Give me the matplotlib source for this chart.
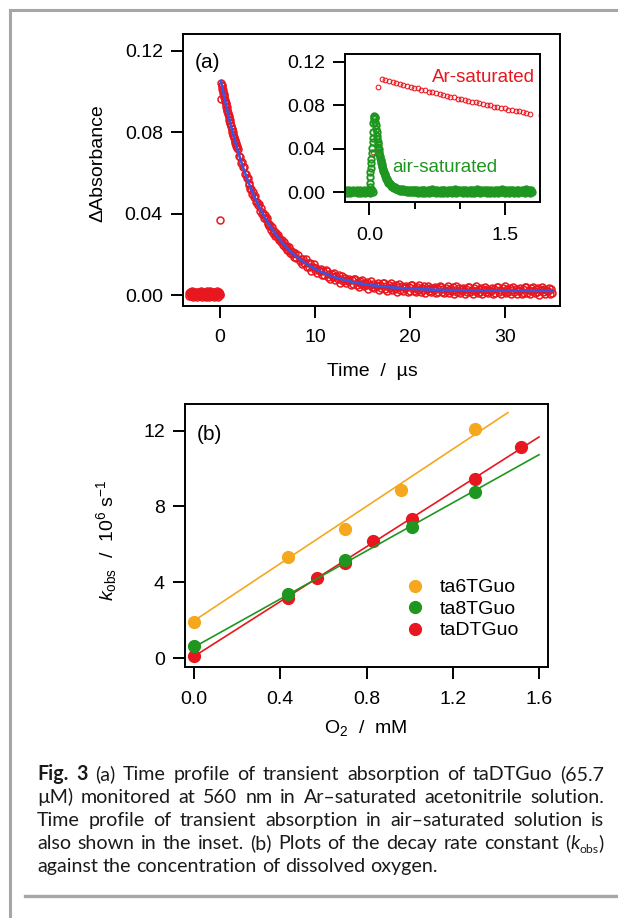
import numpy as np
import matplotlib
matplotlib.use("Agg")
import matplotlib.pyplot as plt
from matplotlib.lines import Line2D
from matplotlib.ticker import FormatStrFormatter

plt.rcParams['font.family'] = ['Liberation Sans', 'DejaVu Sans']
plt.rcParams['mathtext.fontset'] = 'custom'
plt.rcParams['mathtext.rm'] = 'Liberation Sans'
plt.rcParams['mathtext.it'] = 'Liberation Sans:italic'

W, H = 618, 918

# --- (a) transient absorption at 560 nm, values in mOD ---
# Ar-saturated: pre-trigger baseline (-3.3 .. 0.0 us)
ar_pre = [0.9, -0.4, 1.6, 0.6, -0.7, 1.3, 0.1, 1.9, -0.2, 0.8, -1.0, 1.2, 0.5, -0.5,
          1.5, 0.2, 1.0, -0.8, 1.7, -0.1, 0.7, -0.3, 1.4, -0.6, 1.1, 0.0, 1.8, -0.9,
          0.6, 1.3, -0.2, 0.9, 0.2, 1.2, -0.6, 1.5, 0.3, -0.9, 1.8, 0.4, -0.3, 1.1,
          -1.1, 0.7, 2.0, -0.4, 0.9, 0.1, 1.6, -0.7, 1.2, 0.5, -0.2, 1.7, -0.8, 0.6,
          1.4, 0.0, -0.5, 1.9, 0.3, 1.0, -1.0, 0.8, 1.5, -0.1, 0.4]
# laser pulse rise
ar_rise_t = [0.045, 0.093]
ar_rise = [37.0, 96.5]
# 0.137 .. 1.777 us (40 ns steps)
ar_early = [104.3, 103.0, 102.5, 101.2, 100.7, 99.4, 98.9, 97.6, 97.2, 95.9, 95.5,
            94.2, 93.8, 92.5, 92.1, 90.9, 90.5, 89.3, 88.9, 87.7, 87.3, 86.1, 85.8,
            84.6, 84.3, 83.1, 82.8, 81.7, 81.4, 80.2, 79.9, 78.8, 78.5, 77.4, 77.1,
            76.0, 75.8, 74.7, 74.5, 73.4, 73.2, 72.1]
# 1.9 .. 8.0 us (0.1 us steps)
ar_mid = [71.5, 68.1, 67.7, 64.7, 65.4, 62.9, 63.0, 59.5, 59.5, 57.4, 57.5, 54.2,
          55.2, 52.1, 52.1, 49.5, 50.5, 48.3, 48.8, 45.5, 45.9, 44.1, 44.5, 41.5,
          42.8, 40.0, 40.2, 37.8, 39.1, 37.2, 37.9, 34.9, 35.6, 33.9, 34.6, 31.8,
          33.3, 30.7, 31.2, 29.0, 30.5, 28.8, 29.6, 26.9, 27.7, 26.2, 27.1, 24.4,
          26.1, 23.7, 24.3, 22.3, 23.9, 22.3, 23.4, 20.7, 21.7, 20.3, 21.3, 18.8,
          20.6, 18.3]
# 8.25 .. 35.0 us (0.125 us steps)
ar_tail = [19.8, 16.8, 17.7, 15.1, 17.5, 15.7, 17.6, 14.0, 15.6, 14.0, 15.6, 11.9,
           13.7, 15.0, 12.2, 13.5, 10.9, 12.5, 11.6, 12.7, 9.6, 11.7, 9.7, 12.1,
           11.8, 9.0, 10.1, 7.8, 10.4, 8.8, 10.9, 7.5, 9.2, 7.8, 9.6, 6.1,
           8.0, 9.5, 6.8, 8.2, 5.8, 7.5, 6.8, 8.1, 5.0, 7.3, 5.4, 8.0,
           7.7, 5.1, 6.3, 4.1, 6.8, 5.3, 7.5, 4.2, 6.0, 4.7, 6.5, 3.1,
           5.1, 6.7, 4.1, 5.6, 3.2, 5.1, 4.4, 5.7, 2.7, 5.1, 3.2, 5.9,
           5.7, 3.1, 4.4, 2.2, 5.0, 3.5, 5.8, 2.5, 4.4, 3.1, 5.0, 1.6,
           3.7, 5.3, 2.7, 4.3, 1.9, 3.8, 3.2, 4.5, 1.6, 4.0, 2.1, 4.8,
           4.7, 2.1, 3.4, 1.3, 4.1, 2.6, 4.9, 1.7, 3.6, 2.3, 4.2, 0.9,
           3.0, 4.5, 2.0, 3.6, 1.3, 3.2, 2.5, 3.9, 1.0, 3.4, 1.6, 4.3,
           4.1, 1.6, 2.9, 0.8, 3.6, 2.2, 4.5, 1.2, 3.1, 1.9, 3.8, 0.5,
           2.6, 4.2, 1.7, 3.3, 1.0, 2.8, 2.2, 3.6, 0.7, 3.1, 1.3, 4.0,
           3.9, 1.4, 2.7, 0.6, 3.4, 1.9, 4.2, 1.0, 2.9, 1.7, 3.6, 0.3,
           2.4, 4.0, 1.5, 3.1, 0.8, 2.7, 2.1, 3.5, 0.6, 3.0, 1.2, 3.9,
           3.8, 1.3, 2.6, 0.5, 3.3, 1.9, 4.2, 1.0, 2.9, 1.7, 3.6, 0.3,
           2.4, 4.0, 1.4, 3.0, 0.7, 2.6, 2.0, 3.4, 0.5, 2.9, 1.1, 3.8,
           3.7, 1.2, 2.5, 0.4, 3.2, 1.8, 4.1, 0.9, 2.8, 1.6, 3.5, 0.2,
           2.3, 3.9, 1.4, 3.0, 0.7, 2.6, 2.0, 3.4, 0.5, 2.9, 1.1]

# single-exponential fit of the Ar-saturated decay (mOD, us)
fit_base, fit_amp, fit_t0, fit_tau = 2.0, 103.0, 0.1, 4.4

# air-saturated trace (inset)
air_pre = [1.9, -0.3, 1.4, 0.2, 2.2, -0.5, 1.1, 0.6, 2.0, -0.1, 1.6, 0.0, 2.3, -0.4,
           1.2, 0.7, 1.8, -0.2, 1.5, 0.3, 2.1, -0.6, 1.3, 0.5, 1.9, 0.1, 2.4, -0.3,
           1.0, 1.7, 0.4]
air_rise_t = [0.008, 0.010, 0.012, 0.013, 0.015, 0.017, 0.019, 0.030, 0.033, 0.036,
              0.038, 0.041, 0.044, 0.048, 0.052, 0.056, 0.060, 0.064]
air_rise = [5.0, 9.0, 14.0, 19.0, 22.0, 27.0, 31.0, 36.0, 41.0, 46.0, 50.0, 55.0,
            64.0, 67.0, 69.0, 70.0, 69.0, 68.0]
# 0.068 .. 0.300 us (4 ns steps)
air_decay = [64.6, 61.5, 57.9, 55.1, 51.8, 49.4, 46.3, 44.3, 41.5, 39.8,
             37.2, 35.6, 33.4, 31.9, 29.8, 28.7, 26.7, 25.7, 24.0, 23.1,
             21.5, 20.8, 19.2, 18.7, 17.3, 16.8, 15.5, 15.1, 13.9, 13.6,
             12.4, 12.2, 11.2, 10.9, 10.1, 9.9, 9.0, 8.9, 8.1, 8.0,
             7.3, 7.2, 6.5, 6.6, 5.8, 6.0, 5.2, 5.6, 4.7, 5.2,
             4.3, 4.8, 3.9, 4.5, 3.6, 4.1, 3.2, 3.9, 3.0]
# 0.31 .. 1.80 us (10 ns steps)
air_tail = [3.4, 2.0, 3.1, 1.5, 2.8, 1.2, 2.6, 0.9, 2.5, 1.0,
            2.3, 0.4, 2.1, 0.7, 2.4, 0.2, 1.9, 0.5, 2.2, -0.1,
            1.8, 0.3, 2.3, -0.2, 1.6, 0.6, 2.4, -0.4, 1.7, 0.1,
            2.5, -0.3, 1.4, 0.8, 2.2, -0.5, 1.9, 0.2, 2.6, -0.1,
            1.5, 0.4, 2.3, -0.6, 2.0, 0.7, 1.3, -0.2, 2.5, 0.3,
            1.8, -0.4, 2.2, 0.5, 1.6, -0.3, 2.4, 0.0, 1.9, 0.6,
            2.1, -0.5, 1.5, 0.3, 2.6, -0.2, 1.7, 0.8, 2.3, -0.1,
            1.4, 0.2, 2.5, -0.4, 1.8, 0.5, 2.0, -0.3, 1.6, 0.7,
            2.4, -0.2, 1.9, 0.1, 2.2, -0.6, 1.5, 0.4, 2.6, 0.0,
            1.7, -0.3, 2.1, 0.6, 1.4, -0.1, 2.3, 0.3, 1.8, -0.5,
            2.5, 0.2, 1.6, -0.4, 2.0, 0.7, 1.3, -0.2, 2.4, 0.1,
            1.9, -0.6, 2.2, 0.4, 1.5, -0.1, 2.6, 0.3, 1.7, -0.3,
            2.1, 0.5, 1.4, -0.2, 2.3, 0.0, 1.8, 0.6, 2.5, -0.4,
            1.6, 0.2, 2.0, -0.5, 2.4, 0.4, 1.3, -0.1, 2.2, 0.7,
            1.9, -0.3, 2.6, 0.1, 1.5, 0.5, 2.1, -0.2, 1.7, 0.3]

# --- (b) decay rate constant vs dissolved O2 ---
o2_6t = [0.0, 0.434, 0.70, 0.959, 1.302]
k_6t = [1.88, 5.31, 6.80, 8.87, 12.07]
o2_8t = [0.0, 0.434, 0.70, 1.009, 1.302]
k_8t = [0.62, 3.37, 5.18, 6.91, 8.77]
o2_dt = [0.0, 0.434, 0.571, 0.70, 0.829, 1.012, 1.302, 1.518]
k_dt = [0.12, 3.16, 4.25, 5.01, 6.15, 7.33, 9.44, 11.12]
# linear fits: intercept, slope, end of fitted range
fit_6t = (1.97, 7.54, 1.456)
fit_8t = (0.58, 6.34, 1.60)
fit_dt = (0.09, 7.23, 1.60)
names = ["ta6TGuo", "ta8TGuo", "taDTGuo"]

caption = [
    "Fig. 3 (a) Time profile of transient absorption of taDTGuo (65.7",
    "\u00b5M) monitored at 560 nm in Ar\u2013saturated acetonitrile solution.",
    "Time profile of transient absorption in air\u2013saturated solution is",
    "also shown in the inset. (b) Plots of the decay rate constant (kobs)",
    "against the concentration of dissolved oxygen.",
]

red = "#e8161e"
green = "#1f961f"
orange = "#f5a81e"
blue = "#3a55e0"
gray = "#a6a6a6"

# time axes of the sampled traces
ar_t = np.concatenate([np.linspace(-3.3, 0.0, len(ar_pre)), ar_rise_t,
                       np.linspace(0.137, 1.777, len(ar_early)),
                       np.linspace(1.9, 8.0, len(ar_mid)),
                       np.linspace(8.25, 35.0, len(ar_tail))])
ar_v = np.concatenate([ar_pre, ar_rise, ar_early, ar_mid, ar_tail]) * 1e-3
air_t = np.concatenate([np.linspace(-0.26, 0.04, len(air_pre)), air_rise_t,
                        np.linspace(0.068, 0.300, len(air_decay)),
                        np.linspace(0.31, 1.80, len(air_tail))])
air_v = np.concatenate([air_pre, air_rise, air_decay, air_tail]) * 1e-3
fit_t = np.linspace(fit_t0, 35.0, 400)
fit_v = (fit_base + fit_amp * np.exp(-(fit_t - fit_t0) / fit_tau)) * 1e-3


def rect(l, t, r, b):
    return [l / W, 1 - b / H, (r - l) / W, (b - t) / H]


def style_axes(ax, length=8.5, pad=6):
    for s in ax.spines.values():
        s.set_linewidth(1.4)
    ax.tick_params(direction="out", length=length, width=1.4, labelsize=14,
                   pad=pad, top=False, right=False)


fig = plt.figure(figsize=(W / 100, H / 100), dpi=100)

# page frame
fig.add_artist(Line2D([10 / W, 1], [1 - 10 / H] * 2, color=gray, lw=2.2))
fig.add_artist(Line2D([10 / W] * 2, [1 - 10 / H, 0], color=gray, lw=2.2))
fig.add_artist(Line2D([25 / W, 1], [1 - 896 / H] * 2, color=gray, lw=2.4))

# (a) main trace
ax_a = fig.add_axes(rect(183, 34, 560, 306))
ax_a.plot(ar_t, ar_v, ls="none", marker="o", ms=5.0, mfc="none", mec=red, mew=1.1)
ax_a.plot(fit_t, fit_v, color=blue, lw=1.9)
ax_a.set_xlim(-3.9, 35.8)
ax_a.set_ylim(-0.0054, 0.1282)
ax_a.set_xticks([0, 10, 20, 30])
ax_a.set_yticks([0, 0.04, 0.08, 0.12])
ax_a.yaxis.set_major_formatter(FormatStrFormatter("%.2f"))
style_axes(ax_a)
ax_a.tick_params(axis="x", pad=8)

# (a) inset
ax_in = fig.add_axes(rect(345, 54, 540, 202))
ax_in.set_zorder(3)
ax_in.plot(ar_t, ar_v, ls="none", marker="o", ms=3.4, mfc="none", mec=red, mew=0.75)
ax_in.plot(air_t, air_v, ls="none", marker="o", ms=4.6, mfc="none", mec=green, mew=1.4)
ax_in.set_xlim(-0.269, 1.888)
ax_in.set_ylim(-0.0089, 0.1271)
ax_in.set_xticks([0, 1.5])
ax_in.set_xticks([0.5, 1.0], minor=True)
ax_in.set_yticks([0, 0.04, 0.08, 0.12])
ax_in.xaxis.set_major_formatter(FormatStrFormatter("%.1f"))
ax_in.yaxis.set_major_formatter(FormatStrFormatter("%.2f"))
style_axes(ax_in, length=9, pad=5)
ax_in.tick_params(axis="x", pad=9)
ax_in.tick_params(axis="x", which="minor", direction="out", length=5, width=1.4)
ax_in.text(0.974, 0.838, "Ar-saturated", color=red, fontsize=13.5,
           ha="right", va="center", transform=ax_in.transAxes)
ax_in.text(0.241, 0.236, "air-saturated", color=green, fontsize=13.5,
           ha="left", va="center", transform=ax_in.transAxes)

fig.text(195 / W, 1 - 62 / H, "(a)", fontsize=15, va="center")
fig.text(98 / W, 1 - 163 / H, "\u0394Absorbance", rotation=90, fontsize=14,
         ha="center", va="center")
fig.text(372 / W, 1 - 372 / H, "Time  /  \u00b5s", fontsize=14, ha="center", va="center")

# (b) kobs vs [O2]
ax_b = fig.add_axes(rect(185, 404, 548, 667))
handles = []
for xs, ys, fit, col, name in [(o2_dt, k_dt, fit_dt, red, names[2]),
                               (o2_8t, k_8t, fit_8t, green, names[1]),
                               (o2_6t, k_6t, fit_6t, orange, names[0])]:
    b0, b1, xend = fit
    xf = np.array([0.0, xend])
    ax_b.plot(xf, b0 + b1 * xf, color=col, lw=1.2)
    h, = ax_b.plot(xs, ys, ls="none", marker="o", ms=8.5, color=col, label=name)
    handles.append(h)
ax_b.set_xlim(-0.042, 1.642)
ax_b.set_ylim(-0.47, 13.4)
ax_b.set_xticks([0, 0.4, 0.8, 1.2, 1.6])
ax_b.set_yticks([0, 4, 8, 12])
ax_b.xaxis.set_major_formatter(FormatStrFormatter("%.1f"))
style_axes(ax_b)
ax_b.tick_params(axis="x", pad=9)
ax_b.legend(handles[::-1], [h.get_label() for h in handles[::-1]],
            loc="center left", bbox_to_anchor=(0.611, 0.2205), frameon=False,
            handlelength=0.8, handletextpad=0.9, labelspacing=0.2,
            borderpad=0, borderaxespad=0, fontsize=14)

fig.text(197 / W, 1 - 435 / H, "(b)", fontsize=15, va="center")
fig.text(107 / W, 1 - 540 / H, r"$k_{\mathrm{obs}}$  /  10$^6$ s$^{-1}$", rotation=90,
         fontsize=14, ha="center", va="center")
fig.text(366 / W, 1 - 728 / H, r"O$_2$  /  mM", fontsize=14, ha="center", va="center")

# caption, justified between the margins
renderer = fig.canvas.get_renderer()
cap_family = ["Lato", "DejaVu Sans"]
cap_left, cap_right = 37, 604
cap_base = [780, 803, 826, 849, 872]


def make_token(tok, fs, bold):
    if tok == "(kobs)":
        specs = [("(", {}, 0.0), ("k", {"style": "italic"}, 0.0),
                 ("obs", {"fontsize": fs * 0.62}, 0.2), (")", {}, 0.0)]
    else:
        specs = [(tok, {"weight": "bold"} if bold else {}, 0.0)]
    pieces = []
    for s, extra, drop in specs:
        kw = dict(fontsize=fs, family=cap_family, color="#1a1a1a", ha="left", va="baseline")
        kw.update(extra)
        pieces.append((fig.text(0, 0, s, **kw), drop * fs * 100 / 72))
    return pieces


def width(pieces):
    return sum(p.get_window_extent(renderer).width for p, _ in pieces)


def space_width(fs):
    a = fig.text(0, 0, "n n", fontsize=fs, family=cap_family)
    b = fig.text(0, 0, "nn", fontsize=fs, family=cap_family)
    w = a.get_window_extent(renderer).width - b.get_window_extent(renderer).width
    a.remove()
    b.remove()
    return w


# font size from the natural width of the last (unjustified) line
probe = [make_token(w, 12, False) for w in caption[-1].split()]
nat = sum(width(p) for p in probe) + space_width(12) * (len(probe) - 1)
for p in probe:
    for t, _ in p:
        t.remove()
cap_fs = 12 * 400 / nat
sp = space_width(cap_fs)

for i, line in enumerate(caption):
    words = line.split()
    toks = [make_token(w, cap_fs, i == 0 and j < 2) for j, w in enumerate(words)]
    widths = [width(p) for p in toks]
    if i < len(caption) - 1:
        gap = (cap_right - cap_left - sum(widths)) / (len(words) - 1)
    else:
        gap = sp
    x = cap_left
    for p, w in zip(toks, widths):
        xx = x
        for t, drop in p:
            t.set_position((xx / W, 1 - (cap_base[i] + drop) / H))
            xx += t.get_window_extent(renderer).width
        x += w + gap

fig.savefig("out.png", dpi=100)
